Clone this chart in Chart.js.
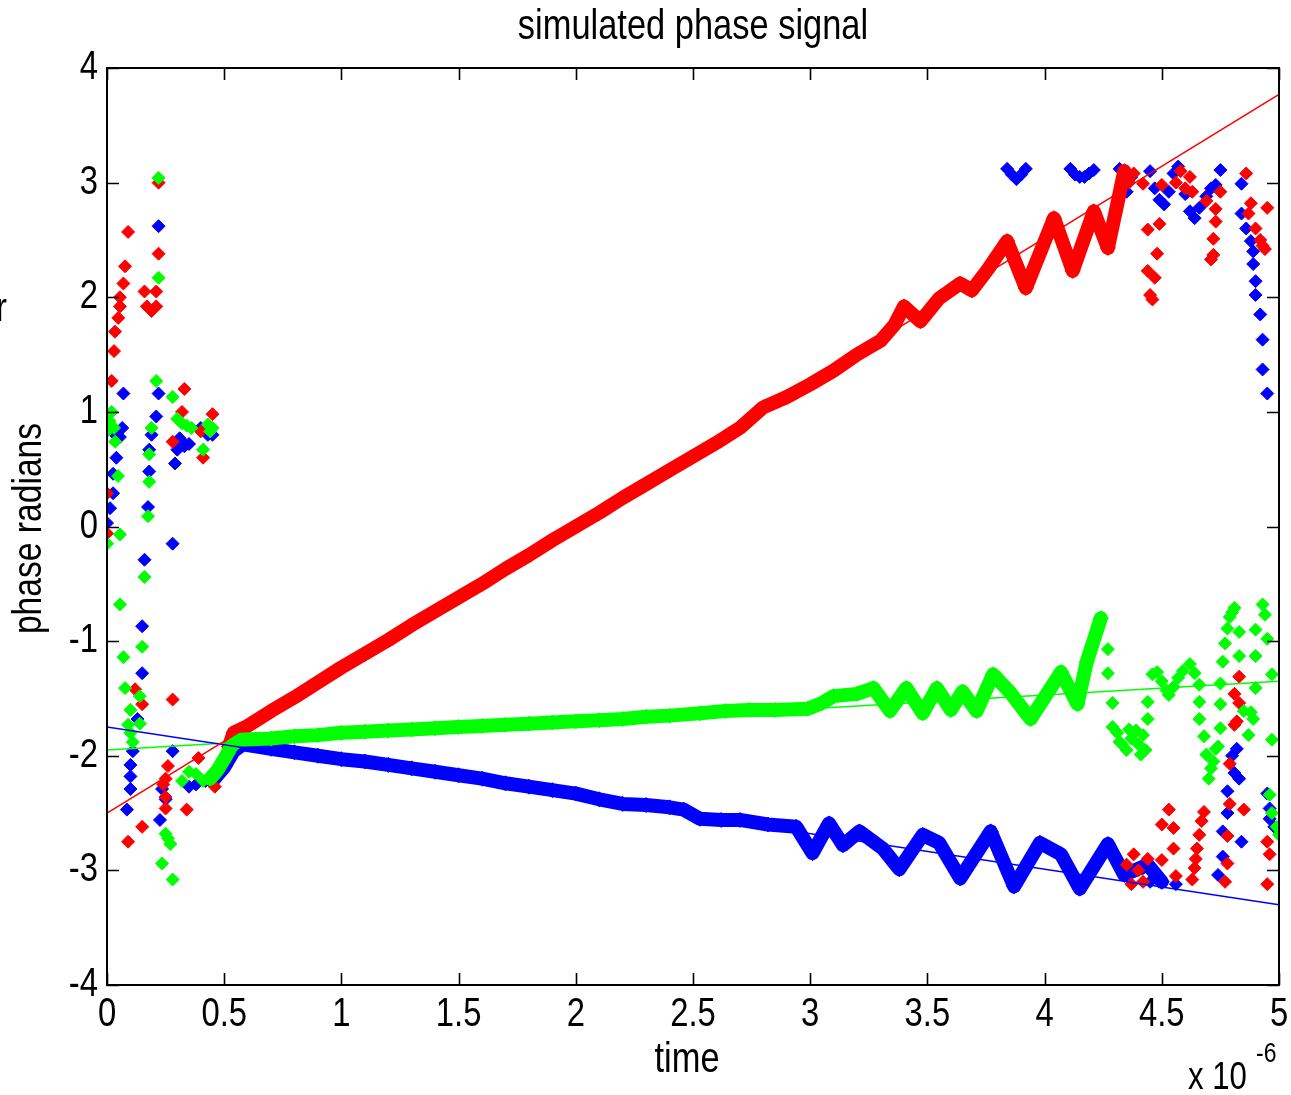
<!DOCTYPE html>
<html>
<head>
<meta charset="utf-8">
<script src="https://cdn.jsdelivr.net/npm/chart.js@4.4.1/dist/chart.umd.min.js"></script>
<style>
  html, body { margin: 0; padding: 0; background: #fff; }
  #wrap { width: 1291px; height: 1095px; position: relative; }
</style>
</head>
<body>
<div id="wrap"><canvas id="phase"></canvas></div>
<script>
// time in units of 1e-6 s, phase in radians
const xTicks = [0, 0.5, 1, 1.5, 2, 2.5, 3, 3.5, 4, 4.5, 5];
const yTicks = [-4, -3, -2, -1, 0, 1, 2, 3, 4];

// least squares fits
const redFit = [[0, -2.50], [5, 3.77]];
const blueFit = [[0, -1.75], [5, -3.30]];
const greenFit = [[0, -1.95], [5, -1.35]];

// dense runs of samples (drawn as a band)
const redTrend = [[0.52, -1.92], [0.54, -1.80], [0.60, -1.74], [0.70, -1.61], [0.80, -1.49], [0.90, -1.36],
  [1.00, -1.23], [1.10, -1.11], [1.20, -0.99], [1.30, -0.86], [1.40, -0.74], [1.50, -0.62], [1.60, -0.50],
  [1.70, -0.37], [1.80, -0.25], [1.90, -0.12], [2.00, 0.00], [2.10, 0.12], [2.20, 0.25], [2.30, 0.37],
  [2.40, 0.49], [2.50, 0.61], [2.60, 0.73], [2.70, 0.86], [2.80, 1.04], [2.90, 1.13], [3.00, 1.24],
  [3.10, 1.36], [3.20, 1.50], [3.30, 1.62], [3.36, 1.76], [3.40, 1.92], [3.47, 1.79], [3.55, 1.99],
  [3.64, 2.12], [3.69, 2.06], [3.76, 2.25], [3.84, 2.49], [3.92, 2.08], [4.04, 2.69], [4.12, 2.23],
  [4.21, 2.75], [4.27, 2.43], [4.34, 3.10]];

const blueTrend = [[0.45, -2.22], [0.50, -2.10], [0.54, -1.96], [0.58, -1.90], [0.70, -1.94], [0.80, -1.97],
  [0.90, -2.00], [1.00, -2.03], [1.10, -2.05], [1.20, -2.08], [1.30, -2.11], [1.40, -2.14], [1.50, -2.17],
  [1.60, -2.20], [1.70, -2.24], [1.80, -2.27], [1.90, -2.30], [2.00, -2.33], [2.10, -2.38], [2.20, -2.42],
  [2.30, -2.43], [2.40, -2.45], [2.46, -2.47], [2.53, -2.55], [2.62, -2.56], [2.70, -2.56], [2.82, -2.60],
  [2.94, -2.62], [3.01, -2.85], [3.08, -2.59], [3.14, -2.78], [3.21, -2.66], [3.31, -2.81], [3.38, -2.99],
  [3.48, -2.69], [3.55, -2.76], [3.64, -3.07], [3.77, -2.66], [3.87, -3.14], [3.98, -2.76], [4.07, -2.86],
  [4.15, -3.16], [4.27, -2.77], [4.34, -3.04], [4.44, -2.95], [4.50, -3.10]];

const greenTrend = [[0.44, -2.20], [0.47, -2.13], [0.50, -2.03], [0.53, -1.92], [0.56, -1.86], [0.70, -1.85],
  [0.80, -1.83], [0.90, -1.82], [1.00, -1.80], [1.10, -1.79], [1.20, -1.78], [1.30, -1.77], [1.40, -1.76],
  [1.50, -1.75], [1.60, -1.74], [1.70, -1.73], [1.80, -1.72], [1.90, -1.71], [2.00, -1.70], [2.10, -1.69],
  [2.20, -1.68], [2.30, -1.66], [2.40, -1.65], [2.53, -1.63], [2.64, -1.61], [2.74, -1.60], [2.85, -1.60],
  [2.99, -1.59], [3.05, -1.54], [3.10, -1.48], [3.20, -1.46], [3.27, -1.41], [3.34, -1.61], [3.41, -1.41],
  [3.48, -1.63], [3.54, -1.41], [3.60, -1.60], [3.65, -1.44], [3.71, -1.61], [3.78, -1.29], [3.85, -1.44],
  [3.94, -1.68], [4.07, -1.27], [4.14, -1.55], [4.18, -1.18], [4.24, -0.80]];

// scattered samples
const redScatter = [[0.00, 0.29], [0.00, -0.06], [0.02, 1.27], [0.03, 1.53], [0.034, 1.70], [0.048, 1.82],
  [0.055, 1.92], [0.055, 2.00], [0.07, 2.12], [0.077, 2.27], [0.09, 2.57], [0.16, 2.05], [0.17, 1.92],
  [0.19, 1.88], [0.21, 1.92], [0.21, 2.05], [0.22, 2.38], [0.22, 3.00], [0.33, 1.20], [0.32, 1.00],
  [0.28, 0.74], [0.45, 0.98], [0.40, 0.83], [0.41, 0.60],
  [0.12, -1.42], [0.15, -1.55], [0.28, -1.51], [0.26, -2.09], [0.39, -2.02], [0.25, -2.20], [0.24, -2.25],
  [0.25, -2.36], [0.25, -2.46], [0.34, -2.47], [0.15, -2.62], [0.09, -2.75], [0.46, -2.27], [0.46, -2.16],
  [0.50, -2.05],
  [4.36, 3.00], [4.38, 3.08], [4.42, 2.99], [4.44, 2.59], [4.49, 2.64], [4.48, 2.38], [4.44, 2.23],
  [4.47, 2.17], [4.45, 2.02], [4.46, 1.98], [4.50, 2.98], [4.56, 3.00], [4.58, 3.10], [4.60, 2.95],
  [4.62, 3.05], [4.63, 2.92], [4.69, 2.84], [4.75, 2.92], [4.73, 2.77], [4.73, 2.66], [4.72, 2.51],
  [4.72, 2.37], [4.71, 2.33], [4.86, 3.08], [4.88, 2.82], [4.87, 2.73], [4.95, 2.78], [4.90, 2.60],
  [4.92, 2.50], [4.93, 2.45], [4.94, 2.42],
  [4.35, -2.95], [4.38, -2.86], [4.40, -3.00], [4.42, -3.10], [4.37, -3.12], [4.44, -2.90], [4.53, -2.47],
  [4.50, -2.60], [4.55, -2.63], [4.55, -2.81], [4.50, -2.91], [4.56, -3.05], [4.68, -2.49], [4.67, -2.57],
  [4.66, -2.69], [4.65, -2.81], [4.645, -2.90], [4.64, -2.98], [4.63, -3.08], [4.79, -2.07], [4.79, -2.42],
  [4.78, -2.70], [4.78, -2.94], [4.77, -3.10], [4.85, -2.47], [4.95, -2.75], [4.96, -2.86], [4.95, -3.12],
  [4.82, -1.70], [4.81, -1.46], [4.83, -1.54], [4.83, -1.31], [4.81, -1.73]];

const blueScatter = [[0.00, 0.03], [0.013, 0.16], [0.026, 0.29], [0.026, 0.46], [0.04, 0.60], [0.035, 0.80],
  [0.055, 0.78], [0.065, 0.86], [0.07, 1.16], [0.22, 1.16], [0.21, 0.96], [0.19, 0.80], [0.22, 2.62],
  [0.18, 0.67], [0.18, 0.48], [0.175, 0.17], [0.16, -0.29], [0.28, -0.15], [0.31, 0.77], [0.32, 0.74],
  [0.33, 0.70], [0.35, 0.72], [0.30, 0.67], [0.29, 0.55], [0.40, 0.86], [0.43, 0.80], [0.45, 0.80],
  [0.15, -0.87], [0.15, -1.28], [0.13, -1.68], [0.11, -1.96], [0.10, -2.08], [0.10, -2.18], [0.10, -2.29],
  [0.085, -2.47], [0.28, -1.96], [0.235, -2.29], [0.25, -2.38], [0.226, -2.56], [0.35, -2.27], [0.38, -2.25],
  [0.42, -2.22],
  [3.84, 3.12], [3.86, 3.07], [3.88, 3.03], [3.90, 3.07], [3.92, 3.12], [4.11, 3.12], [4.13, 3.07],
  [4.15, 3.05], [4.17, 3.05], [4.19, 3.08], [4.21, 3.11], [4.32, 3.12], [4.33, 3.00], [4.35, 2.92],
  [4.37, 3.05], [4.45, 3.10], [4.47, 2.95], [4.49, 2.85], [4.51, 2.81], [4.53, 2.92], [4.55, 3.08],
  [4.57, 3.14], [4.60, 2.90], [4.62, 2.75], [4.64, 2.69], [4.66, 2.78], [4.69, 2.88], [4.71, 2.95],
  [4.73, 2.98], [4.75, 3.11], [4.84, 2.99], [4.84, 2.73], [4.86, 2.60], [4.88, 2.49], [4.89, 2.40],
  [4.89, 2.29], [4.90, 2.14], [4.90, 2.02], [4.92, 1.85], [4.93, 1.63], [4.93, 1.37], [4.95, 1.16],
  [4.82, -1.94], [4.80, -2.00], [4.81, -2.15], [4.83, -2.20], [4.78, -2.31], [4.78, -2.50], [4.76, -2.66],
  [4.84, -2.75], [4.76, -2.88], [4.74, -3.04], [4.95, -2.33], [4.96, -2.46], [4.96, -2.55], [4.98, -2.62],
  [5.00, -2.66], [4.56, -3.12], [4.42, -2.98], [4.45, -3.10]];

const greenScatter = [[0.22, 3.04], [0.22, 2.17], [0.21, 1.27], [0.28, 1.13], [0.30, 0.94], [0.32, 0.90],
  [0.34, 0.88], [0.36, 0.86], [0.19, 0.86], [0.43, 0.89], [0.45, 0.86], [0.44, 0.83], [0.02, 1.00],
  [0.01, 0.92], [0.03, 0.86], [0.00, 0.83], [0.035, 0.74], [0.047, 0.44], [0.18, 0.63], [0.18, 0.39],
  [0.175, 0.09], [0.055, -0.07], [0.00, -0.15], [0.41, 0.67],
  [0.16, -0.44], [0.055, -0.68], [0.15, -1.05], [0.07, -1.14], [0.077, -1.41], [0.14, -1.48], [0.10, -1.60],
  [0.14, -1.72], [0.09, -1.73], [0.10, -1.80], [0.11, -1.88], [0.25, -2.68], [0.26, -2.72], [0.27, -2.77],
  [0.235, -2.94], [0.28, -3.08], [0.32, -2.22], [0.35, -2.14], [0.38, -2.16], [0.41, -2.22],
  [4.27, -1.07], [4.27, -1.28], [4.29, -1.54], [4.29, -1.75], [4.32, -1.88], [4.36, -1.77], [4.41, -1.99],
  [4.42, -1.82], [4.44, -1.68], [4.44, -1.53], [4.31, -1.80], [4.33, -1.90], [4.35, -1.95], [4.37, -1.85],
  [4.39, -1.78], [4.40, -1.90], [4.43, -1.95],
  [4.46, -1.29], [4.48, -1.27], [4.50, -1.35], [4.52, -1.43], [4.53, -1.47], [4.55, -1.40], [4.57, -1.32],
  [4.59, -1.26], [4.62, -1.20], [4.64, -1.28], [4.66, -1.38],
  [4.66, -1.53], [4.66, -1.68], [4.68, -1.83], [4.69, -1.99], [4.71, -2.11], [4.70, -2.20], [4.72, -2.05],
  [4.73, -1.94], [4.75, -1.55], [4.75, -1.37], [4.75, -1.76], [4.74, -1.92], [4.76, -1.18], [4.77, -1.02],
  [4.78, -0.89], [4.79, -0.79], [4.81, -0.71], [4.80, -0.75], [4.83, -0.92], [4.83, -1.13], [4.85, -1.61],
  [4.89, -1.68], [4.87, -1.82], [4.90, -1.13], [4.90, -0.90], [4.93, -0.68], [4.94, -0.77], [4.95, -0.98],
  [4.97, -1.29], [4.97, -1.86], [4.90, -1.41], [4.88, -1.62], [4.96, -2.34], [4.97, -2.50], [4.99, -2.62],
  [5.00, -2.69]];

const RED = '#ff0000', BLUE = '#0000ff', GREEN = '#00ff00';
const FONT = '"Liberation Sans", Arial, sans-serif';
const SQUEEZE = 0.82; // narrow look of the original lettering

const toXY = (pairs) => pairs.map(p => ({x: p[0], y: p[1]}));

const fitSet = (pairs, color) => ({
  data: toXY(pairs), showLine: true, borderColor: color, borderWidth: 1.5,
  pointRadius: 0, fill: false
});
const trendSet = (pairs, color) => ({
  data: toXY(pairs), showLine: true, borderColor: color, borderWidth: 14,
  borderJoinStyle: 'round', borderCapStyle: 'round',
  pointStyle: 'rectRot', pointRadius: 7.5, backgroundColor: color, pointBorderColor: color,
  pointBorderWidth: 1, fill: false
});
const dotSet = (pairs, color) => ({
  data: toXY(pairs), showLine: false, pointStyle: 'rectRot', pointRadius: 6.5,
  backgroundColor: color, pointBorderColor: color, pointBorderWidth: 1
});

const label = (ctx, text, x, y, size, align, angle) => {
  ctx.save();
  ctx.translate(x, y);
  if (angle) ctx.rotate(angle);
  ctx.scale(SQUEEZE, 1);
  ctx.font = `${size}px ${FONT}`;
  ctx.textAlign = align;
  ctx.textBaseline = 'middle';
  ctx.fillText(text, 0, 0);
  ctx.restore();
};

// box with inward ticks, tick labels, title and axis labels
const matlabFrame = {
  id: 'matlabFrame',
  afterDraw(chart) {
    const {ctx, chartArea: a, scales: {x, y}} = chart;
    ctx.save();
    ctx.strokeStyle = '#000';
    ctx.lineWidth = 2;
    ctx.strokeRect(a.left, a.top, a.right - a.left, a.bottom - a.top);
    ctx.beginPath();
    const len = 12;
    xTicks.forEach(v => {
      const px = Math.round(x.getPixelForValue(v)) + 0.5;
      ctx.moveTo(px, a.bottom); ctx.lineTo(px, a.bottom - len);
      ctx.moveTo(px, a.top); ctx.lineTo(px, a.top + len);
    });
    yTicks.forEach(v => {
      const py = Math.round(y.getPixelForValue(v)) + 0.5;
      ctx.moveTo(a.left, py); ctx.lineTo(a.left + len, py);
      ctx.moveTo(a.right, py); ctx.lineTo(a.right - len, py);
    });
    ctx.lineWidth = 1.6;
    ctx.stroke();

    ctx.fillStyle = '#000';
    xTicks.forEach(v => label(ctx, String(v), x.getPixelForValue(v), a.bottom + 30, 40, 'center'));
    yTicks.forEach(v => label(ctx, String(v), a.left - 9, y.getPixelForValue(v), 40, 'right'));

    label(ctx, 'simulated phase signal', (a.left + a.right) / 2, 27, 42, 'center');
    label(ctx, 'time', (a.left + a.right) / 2 - 6, 1060, 42, 'center');
    label(ctx, 'phase radians', 30, (a.top + a.bottom) / 2 + 2, 41, 'center', -Math.PI / 2);
    label(ctx, 'x 10', 1188, 1079, 38, 'left');
    label(ctx, '-6', 1256, 1054, 28, 'left');
    label(ctx, 'r', -4, 310, 40, 'left');
    ctx.restore();
  }
};

new Chart(document.getElementById('phase'), {
  type: 'scatter',
  data: {
    datasets: [
      fitSet(redFit, RED),
      fitSet(blueFit, BLUE),
      fitSet(greenFit, GREEN),
      dotSet(greenScatter, GREEN),
      trendSet(greenTrend, GREEN),
      dotSet(redScatter, RED),
      trendSet(redTrend, RED),
      dotSet(blueScatter, BLUE),
      trendSet(blueTrend, BLUE)
    ]
  },
  options: {
    responsive: true,
    maintainAspectRatio: false,
    animation: false,
    layout: {autoPadding: false, padding: {top: 68, right: 12, left: 0, bottom: 0}},
    plugins: {legend: {display: false}, tooltip: {enabled: false}, title: {display: false}},
    scales: {
      x: {
        type: 'linear', min: 0, max: 5,
        afterFit: (s) => { s.height = 110; },
        grid: {display: false, drawTicks: false},
        border: {display: false},
        ticks: {display: false, stepSize: 0.5}
      },
      y: {
        type: 'linear', min: -4, max: 4,
        afterFit: (s) => { s.width = 107; },
        grid: {display: false, drawTicks: false},
        border: {display: false},
        ticks: {display: false, stepSize: 1}
      }
    }
  },
  plugins: [matlabFrame]
});
</script>
</body>
</html>
